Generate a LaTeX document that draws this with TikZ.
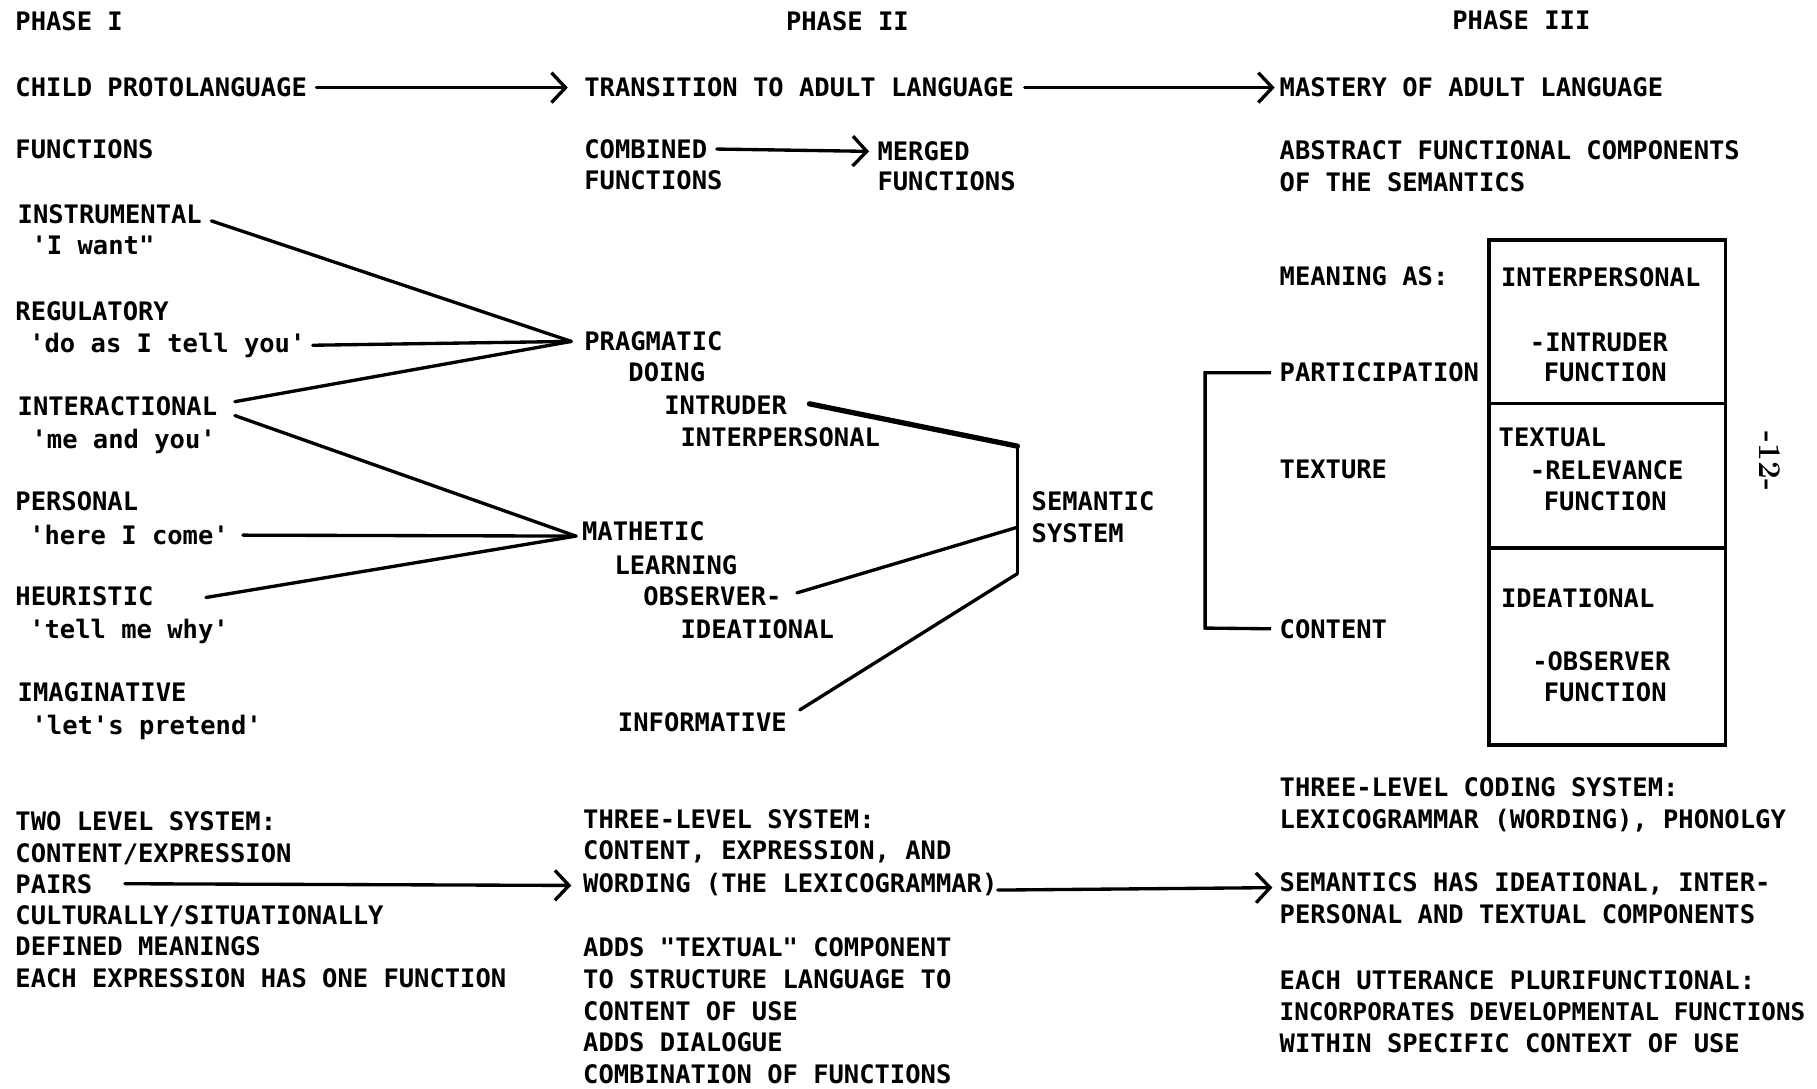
\documentclass[tikz,border=0pt]{standalone}
\usepackage{fontspec}
\newfontfamily\twfont{DejaVu Sans Mono}
\usetikzlibrary{arrows.meta,calc}
\newcommand{\mysq}{\textquotesingle}
\newcommand{\mydq}{\textquotedbl}
\begin{document}
\begin{tikzpicture}[x=0.02318cm,y=-0.02318cm,
  txt/.style={anchor=north west,inner sep=0pt,align=left,font=\twfont\bfseries\fontsize{14.5}{18}\selectfont},
  ln/.style={line width=1.9pt,line cap=round,line join=round},
  thickln/.style={line width=3pt,line cap=round,line join=round},
  arr/.style={ln,-{Straight Barb[length=8pt,width=17pt]}},
  boxln/.style={line width=2pt,line join=miter}]
\useasboundingbox (0,0) rectangle (1568,939);
\fill[white] (0,0) rectangle (1568,939);

% ---------- column 1 ----------
\node[txt] (ph1) at (13,10) {PHASE I};
\node[txt] (child) at (13,67) {CHILD PROTOLANGUAGE};
\node[txt] (func1) at (13,120) {FUNCTIONS};
\node[txt] (instr) at (15,176) {INSTRUMENTAL};
\node[txt] (wantq) at (27,203) {\mysq I want\mydq};
\node[txt] (reg) at (13,260) {REGULATORY};
\node[txt] (regq) at (25,287) {\mysq do as I tell you\mysq};
\node[txt] (inter) at (15,342) {INTERACTIONAL};
\node[txt] (interq) at (27,370) {\mysq me and you\mysq};
\node[txt] (pers) at (13,424) {PERSONAL};
\node[txt] (persq) at (25,453) {\mysq here I come\mysq};
\node[txt] (heur) at (13,506) {HEURISTIC};
\node[txt] (heurq) at (25,534) {\mysq tell me why\mysq};
\node[txt] (imag) at (15,589) {IMAGINATIVE};
\node[txt] (imagq) at (27,617) {\mysq let\mysq s pretend\mysq};
\node[txt] (two) at (13,700) {TWO LEVEL SYSTEM:\\CONTENT/EXPRESSION};
\node[txt] (pairs) at (13,754) {PAIRS};
\node[txt] (cult) at (13,781) {CULTURALLY/SITUATIONALLY\\DEFINED MEANINGS\\EACH EXPRESSION HAS ONE FUNCTION};

% ---------- column 2 ----------
\node[txt] (ph2) at (678,10) {PHASE II};
\node[txt] (trans) at (504,67) {TRANSITION TO ADULT LANGUAGE};
\node[txt] (comb) at (504,120) {COMBINED};
\node[txt] (combf) at (504,147) {FUNCTIONS};
\node[txt] (merg) at (757,122) {MERGED};
\node[txt] (mergf) at (757,148) {FUNCTIONS};
\node[txt] (prag) at (504,286) {PRAGMATIC};
\node[txt] (doing) at (542,313) {DOING};
\node[txt] (intr) at (573,341) {INTRUDER};
\node[txt] (interp) at (587,369) {INTERPERSONAL};
\node[txt] (math) at (502,450) {MATHETIC};
\node[txt] (learn) at (530,479) {LEARNING};
\node[txt] (obs) at (555,506) {OBSERVER-};
\node[txt] (idea) at (587,534) {IDEATIONAL};
\node[txt] (info) at (533,615) {INFORMATIVE};
\node[txt] (sem) at (890,424) {SEMANTIC\\SYSTEM};
\node[txt] (three) at (503,698) {THREE-LEVEL SYSTEM:\\CONTENT, EXPRESSION, AND};
\node[txt] (word) at (503,753) {WORDING (THE LEXICOGRAMMAR)};
\node[txt] (adds) at (503,809) {ADDS \mydq TEXTUAL\mydq{} COMPONENT\\TO STRUCTURE LANGUAGE TO\\CONTENT OF USE\\ADDS DIALOGUE\\COMBINATION OF FUNCTIONS};

% ---------- column 3 ----------
\node[txt] (ph3) at (1253,9) {PHASE III};
\node[txt] (mast) at (1104,67) {MASTERY OF ADULT LANGUAGE};
\node[txt] (abs) at (1104,121) {ABSTRACT FUNCTIONAL COMPONENTS\\OF THE SEMANTICS};
\node[txt] (mean) at (1104,230) {MEANING AS:};
\node[txt] (part) at (1104,313) {PARTICIPATION};
\node[txt] (textr) at (1104,397) {TEXTURE};
\node[txt] (cont) at (1104,534) {CONTENT};
\node[txt] (ipers) at (1295,231) {INTERPERSONAL};
\node[txt] (ifn) at (1320,287) {-INTRUDER};
\node[txt] (ifn2) at (1332,313) {FUNCTION};
\node[txt] (txtl) at (1293,369) {TEXTUAL};
\node[txt] (rfn) at (1320,397) {-RELEVANCE};
\node[txt] (rfn2) at (1332,424) {FUNCTION};
\node[txt] (idl) at (1295,508) {IDEATIONAL};
\node[txt] (ofn) at (1322,562) {-OBSERVER};
\node[txt] (ofn2) at (1332,589) {FUNCTION};
\node[anchor=center,inner sep=0pt,rotate=-90,font=\rmfamily\bfseries\fontsize{18}{20}\selectfont] (pg) at (1527,398) {-12-};
\node[txt] (coding) at (1104,671) {THREE-LEVEL CODING SYSTEM:\\LEXICOGRAMMAR (WORDING), PHONOLGY};
\node[txt] (seman) at (1104,753) {SEMANTICS HAS IDEATIONAL, INTER-\\PERSONAL AND TEXTUAL COMPONENTS};
\node[txt] (each) at (1104,837) {EACH UTTERANCE PLURIFUNCTIONAL:\\{\fontsize{13.8}{18}\selectfont INCORPORATES DEVELOPMENTAL FUNCTIONS}\\WITHIN SPECIFIC CONTEXT OF USE};

% box of components
\draw[boxln] (1285,207) rectangle (1489,643);
\draw[boxln] (1285,348) -- (1489,348);
\draw[boxln] (1285,473) -- (1489,473);

% ---------- arrows ----------
\draw[arr] ($(child.east)+(8,0)$) -- ($(trans.west)+(-14,0)$);
\draw[arr] ($(trans.east)+(9,0)$) -- ($(mast.west)+(-4,0)$);
\draw[arr] ($(comb.east)+(8,0)$) -- ($(merg.west)+(-7,0)$);
\draw[arr] ($(pairs.east)+(28,0)$) -- ($(word.west)+(-10,1)$);
\draw[arr] ($(word.east)+(0,5)$) -- ($(seman.north west)+(-6,13)$);

% ---------- fan lines ----------
\coordinate (P) at ($(prag.west)+(-11,0)$);
\coordinate (M) at ($(math.west)+(-5,4)$);
\draw[ln] ($(instr.east)+(8,6)$) -- (P);
\draw[ln] ($(regq.east)+(6,0)$) -- (P);
\draw[ln] ($(inter.east)+(15,-4)$) -- (P);
\draw[ln] ($(inter.east)+(15,8)$) -- (M);
\draw[ln] ($(persq.east)+(12,0)$) -- (M);
\draw[ln] ($(heur.east)+(45,1)$) -- (M);

% ---------- semantic system ----------
\coordinate (stop) at (878,385);
\coordinate (smid) at (878,455);
\coordinate (sbot) at (878,495);
\draw[thickln] ($(intr.east)+(19,-1)$) -- (stop);
\draw[ln] (stop) -- (sbot);
\draw[ln] ($(obs.east)+(13,-3)$) -- (smid);
\draw[ln] ($(info.east)+(11,-11)$) -- (sbot);

% ---------- bracket ----------
\draw[ln,line cap=butt,line join=miter] ($(part.west)+(-7,0)$) -| (1040,542) -- ($(cont.west)+(-7,0)$);
\end{tikzpicture}
\end{document}
